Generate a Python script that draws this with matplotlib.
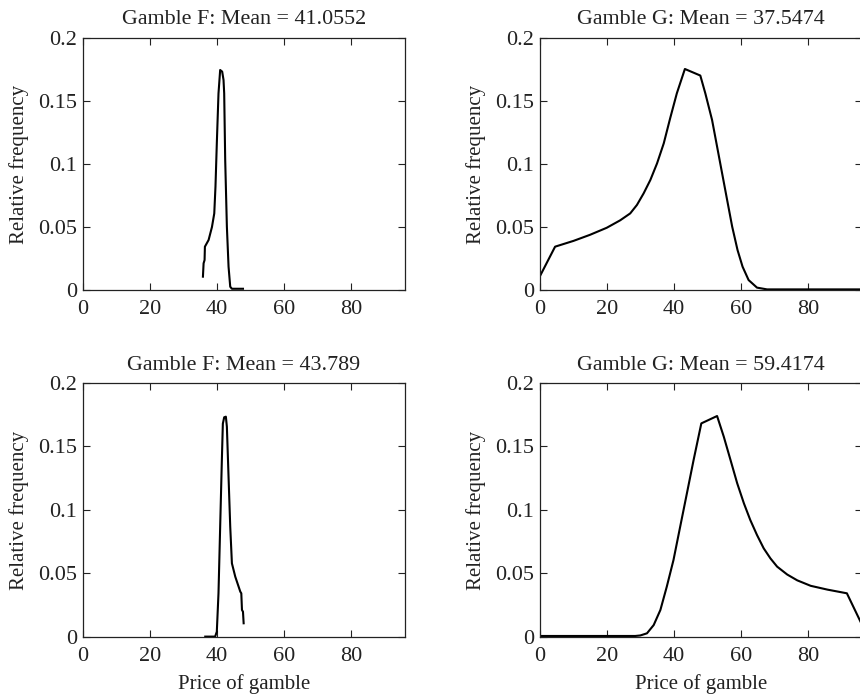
import numpy as np
import matplotlib
matplotlib.use('Agg')
from matplotlib import pyplot as plt
from matplotlib.ticker import FuncFormatter

plt.rcParams['font.family'] = ['Liberation Serif', 'DejaVu Serif']

# DATA ========================================================================
titles = [
    'Gamble F: Mean = 41.0552',
    'Gamble G: Mean = 37.5474',
    'Gamble F: Mean = 43.789',
    'Gamble G: Mean = 59.4174',
]

f_top_x = [35.76, 35.96, 36.25, 36.35, 37.45, 38.45, 39.14, 39.5, 39.9, 40.4,
           40.9, 41.5, 41.9, 42.1, 42.4, 42.9, 43.4, 43.9, 44.4, 47.7]
f_top_y = [0.0106, 0.0212, 0.0238, 0.0344, 0.0397, 0.050, 0.0608, 0.082,
           0.1164, 0.156, 0.1746, 0.1733, 0.1667, 0.156, 0.1032, 0.0503,
           0.0185, 0.0026, 0.001, 0.001]

g_top_x = [0.0, 4.5, 10.0, 14.9, 19.9, 23.9, 26.9, 28.9, 30.9, 32.9, 34.9,
           36.9, 38.8, 40.8, 43.2, 47.8, 49.3, 51.3, 52.8, 54.3, 55.8, 57.3,
           58.9, 60.4, 62.2, 64.7, 67.7, 95.6]
g_top_y = [0.0111, 0.0344, 0.0390, 0.0438, 0.0494, 0.0553, 0.0608, 0.0675,
           0.0767, 0.0873, 0.1005, 0.1164, 0.1362, 0.1561, 0.1754, 0.1702,
           0.156, 0.135, 0.1138, 0.0926, 0.0714, 0.0503, 0.0317, 0.0185,
           0.0079, 0.0019, 0.0005, 0.0005]

f_bot_x = [36.45, 39.4, 39.9, 40.4, 40.9, 41.4, 41.7, 42.1, 42.6, 42.9, 43.4,
           43.9, 44.4, 45.4, 46.9, 47.2, 47.4, 47.7, 47.9]
f_bot_y = [0.0003, 0.0003, 0.0042, 0.0344, 0.0869, 0.139, 0.168, 0.173,
           0.1735, 0.1656, 0.126, 0.0869, 0.058, 0.0475, 0.0357, 0.0344,
           0.0213, 0.0199, 0.0108]

g_bot_x = [0.0, 28.4, 29.9, 31.9, 33.9, 35.9, 37.8, 39.8, 41.8, 43.8, 45.8,
           48.1, 52.8, 54.8, 56.8, 58.8, 60.8, 62.7, 64.7, 66.7, 68.7, 70.7,
           73.7, 76.7, 80.7, 85.7, 91.5, 95.7]
g_bot_y = [0.0008, 0.0008, 0.0012, 0.0029, 0.0094, 0.0213, 0.0396, 0.0606,
           0.0869, 0.1131, 0.1394, 0.1682, 0.174, 0.1577, 0.1394, 0.121,
           0.1052, 0.0921, 0.0803, 0.0698, 0.0619, 0.0554, 0.0492, 0.0446,
           0.0403, 0.0373, 0.0344, 0.0113]

series = [(f_top_x, f_top_y), (g_top_x, g_top_y),
          (f_bot_x, f_bot_y), (g_bot_x, g_bot_y)]

x_ticks = [0, 20, 40, 60, 80]
y_ticks = [0, 0.05, 0.1, 0.15, 0.2]

# PLOT ========================================================================
fig = plt.figure(figsize=(8.6, 6.97), dpi=100)

# axes rectangles (left, bottom, width, height) in figure fractions
positions = [
    [0.0965, 0.5839, 0.3744, 0.3616],
    [0.6279, 0.5839, 0.3744, 0.3616],
    [0.0965, 0.0861, 0.3744, 0.3644],
    [0.6279, 0.0861, 0.3744, 0.3644],
]
txt_color = '#222222'

for k, (pos, (xs, ys), title) in enumerate(zip(positions, series, titles)):
    ax = fig.add_axes(pos)
    ax.plot(xs, ys, c='black', lw=1.5)
    ax.set_xlim([0, 96])
    ax.set_ylim([0, 0.2])
    ax.set_xticks(x_ticks)
    ax.set_yticks(y_ticks)
    ax.yaxis.set_major_formatter(FuncFormatter(lambda v, p: f'{v:g}'))
    ax.tick_params(direction='in', top=True, right=True, length=5,
                   width=0.8, labelsize=16, colors=txt_color)
    ax.tick_params(axis='x', pad=7)
    ax.tick_params(axis='y', pad=4)
    for s in ax.spines.values():
        s.set_linewidth(0.9)
        s.set_color(txt_color)
    ax.set_title(title, fontsize=15.8, color=txt_color,
                 pad=10 if k < 2 else 9.5)
    ax.set_ylabel('Relative frequency', fontsize=15, color=txt_color,
                  labelpad=7)
    if k >= 2:
        ax.set_xlabel('Price of gamble', fontsize=15, color=txt_color,
                      labelpad=6)

fig.savefig('out.png', dpi=100)
